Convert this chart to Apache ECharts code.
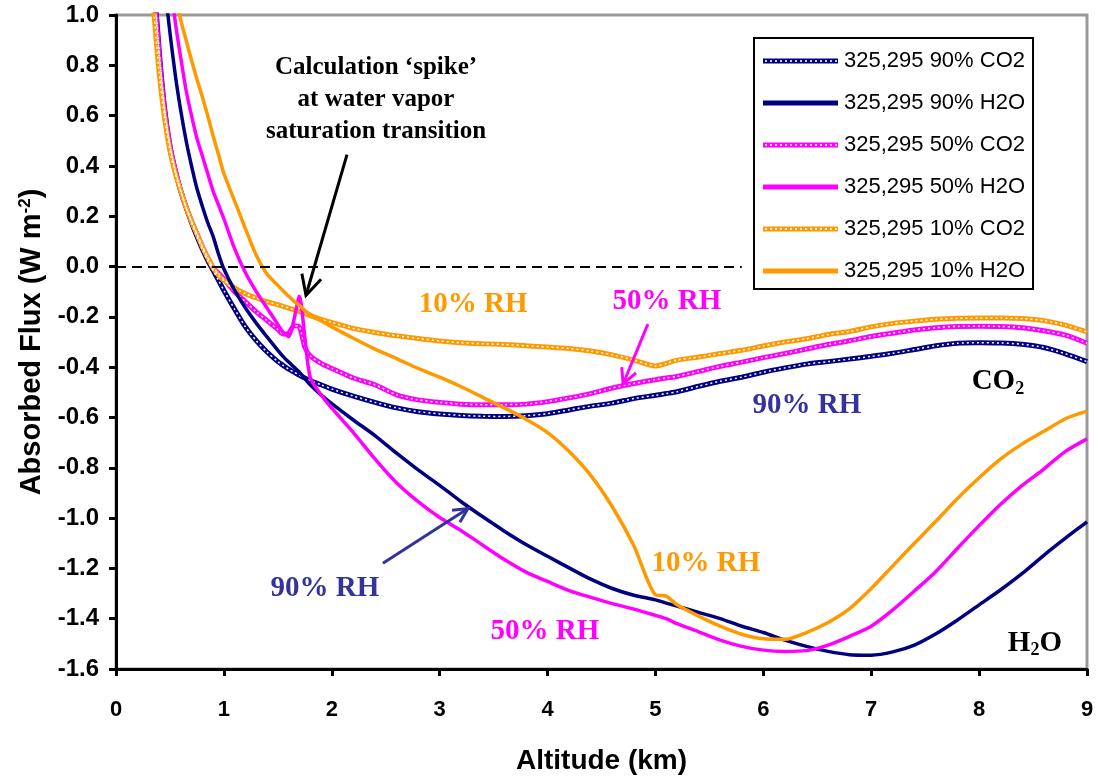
<!DOCTYPE html>
<html>
<head>
<meta charset="utf-8">
<script src="https://cdn.jsdelivr.net/npm/echarts@6/dist/echarts.min.js"></script>
<style>
  html, body { margin: 0; padding: 0; background: #ffffff; }
  #chart { width: 1098px; height: 780px; }
</style>
</head>
<body>
<div id="chart"></div>
<script>
// Altitude grid (km) shared by all six profiles
const altitude = [
  0.30, 0.35, 0.40, 0.45, 0.50, 0.55, 0.60, 0.65, 0.70, 0.75,
  0.80, 0.85, 0.90, 0.95, 1.00, 1.10, 1.20, 1.30, 1.40, 1.50,
  1.55, 1.60, 1.65, 1.70, 1.75, 1.80, 1.90, 2.00, 2.20, 2.40,
  2.60, 2.80, 3.00, 3.20, 3.40, 3.60, 3.80, 4.00, 4.20, 4.40,
  4.60, 4.80, 5.00, 5.10, 5.20, 5.40, 5.60, 5.80, 6.00, 6.20,
  6.40, 6.60, 6.80, 7.00, 7.20, 7.40, 7.60, 7.80, 8.00, 8.20,
  8.40, 8.60, 8.80, 9.00
];

// Absorbed flux (W m-2), 90% relative humidity
const co2_90 = [
  null, 1.15, 0.86, 0.63, 0.48, 0.38, 0.30, 0.235, 0.175, 0.12,
  0.07, 0.025, -0.015, -0.055, -0.095, -0.17, -0.24, -0.295, -0.34, -0.378,
  -0.393, -0.408, -0.42, -0.432, -0.443, -0.453, -0.47, -0.487, -0.515, -0.54,
  -0.562, -0.577, -0.586, -0.592, -0.595, -0.596, -0.593, -0.585, -0.57, -0.555,
  -0.543, -0.525, -0.512, -0.505, -0.498, -0.476, -0.456, -0.44, -0.42, -0.403,
  -0.388, -0.378, -0.368, -0.357, -0.345, -0.33, -0.315, -0.305, -0.303, -0.304,
  -0.309, -0.322, -0.347, -0.378
];
const h2o_90 = [
  null, null, null, 1.12, 0.93, 0.76, 0.62, 0.50, 0.40, 0.31,
  0.24, 0.175, 0.12, 0.05, -0.01, -0.095, -0.165, -0.225, -0.28, -0.333,
  -0.358, -0.38, -0.40, -0.42, -0.445, -0.47, -0.51, -0.545, -0.61, -0.672,
  -0.742, -0.808, -0.87, -0.935, -0.995, -1.052, -1.105, -1.152, -1.198, -1.243,
  -1.28, -1.307, -1.325, -1.338, -1.35, -1.375, -1.40, -1.43, -1.455, -1.485,
  -1.51, -1.53, -1.543, -1.545, -1.532, -1.505, -1.46, -1.405, -1.345, -1.285,
  -1.22, -1.148, -1.08, -1.015
];

// 50% relative humidity
const co2_50 = [
  null, 1.12, 0.84, 0.62, 0.48, 0.38, 0.30, 0.235, 0.18, 0.13,
  0.08, 0.035, -0.005, -0.027, -0.05, -0.10, -0.14, -0.18, -0.215, -0.25,
  -0.268, -0.265, -0.235, -0.24, -0.32, -0.355, -0.385, -0.405, -0.443, -0.47,
  -0.51, -0.53, -0.54, -0.547, -0.549, -0.549, -0.547, -0.537, -0.522, -0.505,
  -0.483, -0.465, -0.45, -0.443, -0.437, -0.417, -0.397, -0.38, -0.362, -0.346,
  -0.328, -0.31, -0.295, -0.278, -0.265, -0.252, -0.243, -0.238, -0.237, -0.238,
  -0.243, -0.255, -0.273, -0.305
];
const h2o_50 = [
  null, null, null, null, 1.15, 0.97, 0.83, 0.70, 0.60, 0.51,
  0.44, 0.37, 0.30, 0.245, 0.19, 0.07, -0.025, -0.10, -0.165, -0.23,
  -0.262, -0.278, -0.21, -0.118, -0.28, -0.44, -0.51, -0.563, -0.66, -0.765,
  -0.86, -0.935, -0.998, -1.05, -1.108, -1.165, -1.215, -1.252, -1.288, -1.315,
  -1.34, -1.362, -1.387, -1.40, -1.42, -1.452, -1.485, -1.51, -1.525, -1.53,
  -1.527, -1.505, -1.47, -1.43, -1.365, -1.29, -1.212, -1.12, -1.03, -0.945,
  -0.87, -0.805, -0.735, -0.685
];

// 10% relative humidity
const co2_10 = [
  1.35, 1.02, 0.77, 0.59, 0.46, 0.37, 0.30, 0.235, 0.18, 0.13,
  0.08, 0.035, -0.005, -0.035, -0.055, -0.085, -0.108, -0.125, -0.14, -0.152,
  -0.158, -0.165, -0.172, -0.179, -0.186, -0.195, -0.21, -0.222, -0.246, -0.262,
  -0.275, -0.286, -0.296, -0.303, -0.307, -0.31, -0.315, -0.32, -0.326, -0.336,
  -0.351, -0.372, -0.395, -0.385, -0.372, -0.36, -0.346, -0.333, -0.316, -0.30,
  -0.287, -0.27, -0.258, -0.24, -0.226, -0.217, -0.21, -0.206, -0.205, -0.205,
  -0.207, -0.215, -0.233, -0.26
];
const h2o_10 = [
  null, null, null, null, null, 1.08, 0.98, 0.90, 0.82, 0.745,
  0.675, 0.60, 0.52, 0.445, 0.37, 0.26, 0.15, 0.045, -0.03, -0.075,
  -0.097, -0.118, -0.138, -0.155, -0.175, -0.19, -0.215, -0.24, -0.285, -0.328,
  -0.366, -0.405, -0.44, -0.478, -0.52, -0.562, -0.607, -0.66, -0.735, -0.83,
  -0.955, -1.11, -1.305, -1.31, -1.345, -1.39, -1.43, -1.462, -1.48, -1.482,
  -1.455, -1.415, -1.36, -1.28, -1.19, -1.10, -1.012, -0.922, -0.84, -0.765,
  -0.705, -0.655, -0.605, -0.575
];

// Axis ticks
const xTicks = { min: 0, max: 9, step: 1 };
const yTicks = { min: -1.6, max: 1.0, step: 0.2 };

const NAVY = '#000080';
const MAGENTA = '#FF00FF';
const ORANGE = '#FF9900';
const RH_BLUE = '#333399';
const SANS = '"Liberation Sans", Arial, sans-serif';
const SERIF = '"Liberation Serif", "Times New Roman", serif';

const profiles = [
  { name: '325,295 90% CO2', values: co2_90, color: NAVY, gas: 'co2' },
  { name: '325,295 90% H2O', values: h2o_90, color: NAVY, gas: 'h2o' },
  { name: '325,295 50% CO2', values: co2_50, color: MAGENTA, gas: 'co2' },
  { name: '325,295 50% H2O', values: h2o_50, color: MAGENTA, gas: 'h2o' },
  { name: '325,295 10% CO2', values: co2_10, color: ORANGE, gas: 'co2' },
  { name: '325,295 10% H2O', values: h2o_10, color: ORANGE, gas: 'h2o' }
];

function pairs(values) {
  return altitude.map((a, i) => [a, values[i]]);
}

// Legend swatches: chain of hollow links for CO2, plain bar for H2O
function swatch(color, chain) {
  let s = '<svg xmlns="http://www.w3.org/2000/svg" width="77" height="20" viewBox="0 0 77 20">';
  s += '<rect x="1" y="7.5" width="75" height="5" fill="' + color + '"/>';
  if (chain) {
    for (let x = 3; x < 74; x += 5) {
      s += '<rect x="' + x + '" y="9.2" width="2" height="1.6" fill="#ffffff"/>';
    }
  }
  s += '</svg>';
  return 'image://data:image/svg+xml;charset=utf-8,' + encodeURIComponent(s);
}

const SMOOTH = 0.25;
const series = [];
// CO2 profiles underneath: coloured band with a white dashed core
profiles.filter(p => p.gas === 'co2').forEach(p => {
  series.push({
    name: p.name, type: 'line', data: pairs(p.values), symbol: 'none',
    smooth: SMOOTH, clip: true,
    lineStyle: { color: p.color, width: 5 }, itemStyle: { color: p.color },
    z: 2
  });
  series.push({
    name: p.name + ' core', type: 'line', data: pairs(p.values), symbol: 'none',
    smooth: SMOOTH, clip: true, silent: true,
    lineStyle: { color: '#ffffff', width: 1.5, type: [2, 3] },
    z: 3
  });
});
// H2O profiles on top
profiles.filter(p => p.gas === 'h2o').forEach(p => {
  series.push({
    name: p.name, type: 'line', data: pairs(p.values), symbol: 'none',
    smooth: SMOOTH, clip: true,
    lineStyle: { color: p.color, width: 3.5 }, itemStyle: { color: p.color },
    z: 4
  });
});
// Zero reference line
series[0].markLine = {
  silent: true, symbol: 'none', label: { show: false },
  lineStyle: { color: '#000000', width: 2, type: [10, 6] },
  data: [[{ coord: [0, 0] }, { coord: [5.8, 0] }]]
};

const chart = echarts.init(document.getElementById('chart'), null, { renderer: 'canvas' });

const option = {
  animation: false,
  backgroundColor: '#ffffff',
  grid: {
    left: 116, right: 11, top: 15, bottom: 109,
    show: true, borderColor: '#999999', borderWidth: 3, backgroundColor: '#ffffff'
  },
  legend: {
    orient: 'vertical', left: 754, top: 38,
    padding: [12, 8, 7, 8],
    itemWidth: 77, itemHeight: 20, itemGap: 20,
    backgroundColor: '#ffffff', borderColor: '#000000', borderWidth: 2,
    selectedMode: false,
    textStyle: { fontFamily: SANS, fontSize: 22, color: '#000000', width: 202, padding: [0, 0, 0, 0] },
    data: profiles.map(p => ({ name: p.name, icon: swatch(p.color, p.gas === 'co2') }))
  },
  xAxis: {
    type: 'value', min: xTicks.min, max: xTicks.max, interval: xTicks.step,
    name: 'Altitude (km)', nameLocation: 'middle', nameGap: 78,
    nameTextStyle: { fontFamily: SANS, fontSize: 28, fontWeight: 'bold', color: '#000000' },
    axisLine: { show: true, onZero: false, lineStyle: { color: '#000000', width: 3 } },
    axisTick: { show: true, inside: false, length: 7, lineStyle: { color: '#000000', width: 3 } },
    axisLabel: { margin: 30, fontFamily: SANS, fontSize: 22, fontWeight: 'bold', color: '#000000' },
    splitLine: { show: false }
  },
  yAxis: {
    type: 'value', min: yTicks.min, max: yTicks.max, interval: yTicks.step,
    name: 'Absorbed Flux (W m{sup|-2})', nameLocation: 'middle', nameGap: 70,
    nameTextStyle: {
      fontFamily: SANS, fontSize: 29, fontWeight: 'bold', color: '#000000',
      rich: { sup: { fontFamily: SANS, fontSize: 17, fontWeight: 'bold', color: '#000000', verticalAlign: 'top' } }
    },
    axisLine: { show: true, onZero: false, lineStyle: { color: '#000000', width: 3 } },
    axisTick: { show: true, inside: false, length: 7, lineStyle: { color: '#000000', width: 3 } },
    axisLabel: {
      margin: 17, fontFamily: SANS, fontSize: 24, fontWeight: 'bold', color: '#000000',
      formatter: v => (Math.abs(v) < 1e-9 ? 0 : Math.round(v * 10) / 10).toFixed(1)
    },
    splitLine: { show: false }
  },
  series: series
};
chart.setOption(option);

// Annotations placed in data coordinates (altitude km, flux)
const notes = [
  { text: 'Calculation ‘spike’\nat water vapor\nsaturation transition', at: [2.41, 0.665], color: '#000000', size: 25, lh: 32 },
  { text: '10% RH', at: [3.31, -0.149], color: ORANGE, size: 29 },
  { text: '50% RH', at: [5.107, -0.138], color: MAGENTA, size: 29 },
  { text: '90% RH', at: [6.404, -0.554], color: RH_BLUE, size: 29 },
  { text: 'CO{sub|2}', at: [8.174, -0.459], color: '#000000', size: 29 },
  { text: '10% RH', at: [5.468, -1.18], color: ORANGE, size: 29 },
  { text: '90% RH', at: [1.937, -1.279], color: RH_BLUE, size: 29 },
  { text: '50% RH', at: [3.976, -1.449], color: MAGENTA, size: 29 },
  { text: 'H{sub|2}O', at: [8.517, -1.497], color: '#000000', size: 29 }
];
const arrows = [
  { from: [2.141, 0.445], to: [1.761, -0.114], color: '#000000', head: 22 },
  { from: [4.93, -0.229], to: [4.70, -0.467], color: MAGENTA, head: 17 },
  { from: [2.474, -1.18], to: [3.262, -0.962], color: RH_BLUE, head: 16 }
];

function px(pt) { return chart.convertToPixel({ gridIndex: 0 }, pt); }

const graphics = [];
notes.forEach(n => {
  const p = px(n.at);
  graphics.push({
    type: 'text', x: p[0], y: p[1], z: 20, silent: true,
    style: {
      text: n.text, fill: n.color, align: 'center', verticalAlign: 'middle',
      font: 'bold ' + n.size + 'px ' + SERIF, lineHeight: n.lh || n.size + 4,
      rich: {
        sub: { fill: n.color, font: 'bold ' + Math.round(n.size * 0.62) + 'px ' + SERIF, verticalAlign: 'bottom', padding: [12, 0, 0, 0] }
      }
    }
  });
});
arrows.forEach(a => {
  const s = px(a.from), t = px(a.to);
  const dx = t[0] - s[0], dy = t[1] - s[1];
  const len = Math.hypot(dx, dy), ux = dx / len, uy = dy / len;
  const ang = 27 * Math.PI / 180;
  const arm = sgn => {
    const c = Math.cos(ang), sn = Math.sin(ang) * sgn;
    const rx = ux * c - uy * sn, ry = ux * sn + uy * c;
    return [t[0] - rx * a.head, t[1] - ry * a.head];
  };
  graphics.push({
    type: 'polyline', z: 20, silent: true,
    shape: { points: [s, t] },
    style: { stroke: a.color, lineWidth: 3, fill: null }
  });
  graphics.push({
    type: 'polyline', z: 20, silent: true,
    shape: { points: [arm(1), t, arm(-1)] },
    style: { stroke: a.color, lineWidth: 3, fill: null, lineJoin: 'miter' }
  });
});
chart.setOption({ graphic: { elements: graphics } });
</script>
</body>
</html>
